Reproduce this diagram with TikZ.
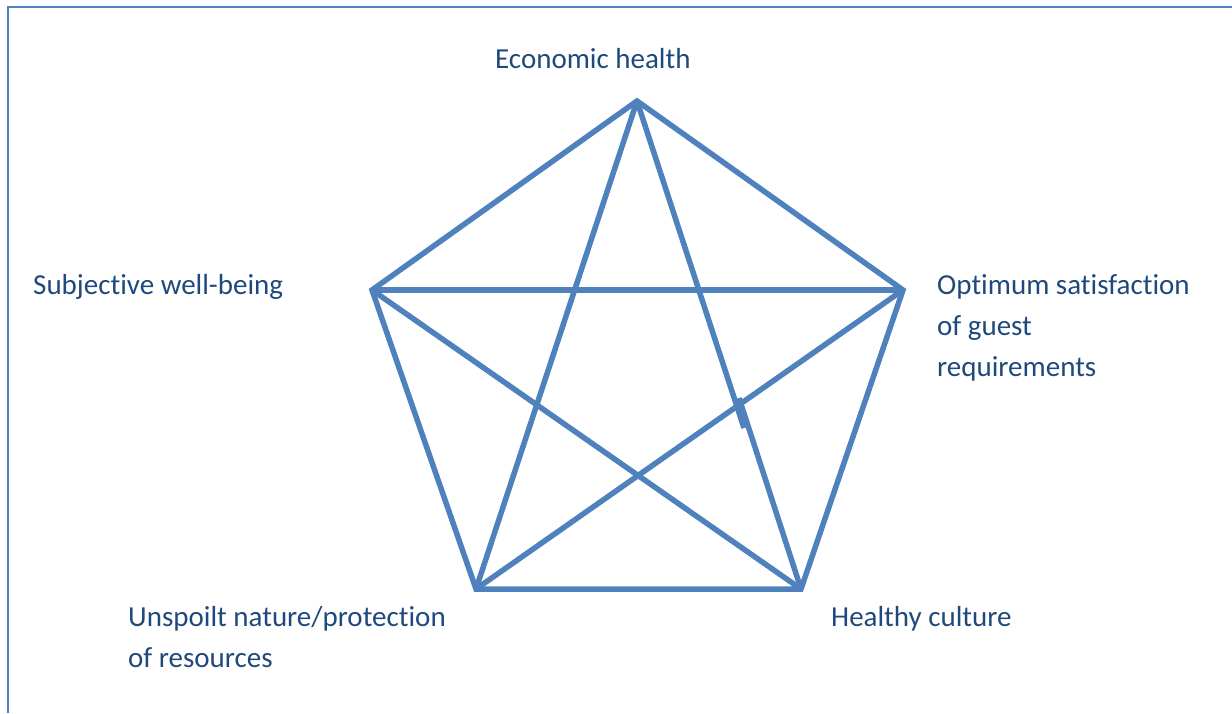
\documentclass[tikz,border=0pt]{standalone}
\usepackage{fontspec}
\setmainfont{Carlito}[Ligatures=NoCommon]
\definecolor{lineblue}{HTML}{4F81BD}
\definecolor{textblue}{HTML}{1F497D}
\begin{document}
\begin{tikzpicture}[x=1pt,y=-1pt,
  edge/.style={draw=lineblue,line width=5.5pt},
  frame/.style={draw=lineblue,line width=2.4pt},
  lbl/.style={text=textblue,font=\fontsize{29}{41}\selectfont,inner sep=0pt,align=left,anchor=base west}]
\useasboundingbox (0,0) rectangle (1232,713);
% outer frame (top and left edges)
\coordinate (FB) at (8,713);
\coordinate (FC) at (8,7);
\coordinate (FR) at (1232,7);
\draw[frame] (FB) -- (FC) -- (FR);
% pentagon corners
\coordinate (E) at (637,101);
\coordinate (R) at (903,290);
\coordinate (H) at (801,589);
\coordinate (U) at (476,589);
\coordinate (L) at (372,290);
% break in the diagonal E--H
\coordinate (K1) at (744,428);
\coordinate (K2) at (739,398);
% outline
\draw[edge,line join=miter] (E) -- (R) -- (H) -- (U) -- (L) -- cycle;
% star diagonals
\draw[edge] (E) -- (U);
\draw[edge] (U) -- (R);
\draw[edge] (R) -- (L);
\draw[edge] (L) -- (H);
\draw[edge] (E) -- (K1);
\draw[edge] (K2) -- (H);
% labels (multi-line nodes are placed by the baseline of their last line)
\node[lbl] (econ) at (495,68) {Economic health};
\node[lbl] (subj) at (33,294) {Subjective well-being};
\node[lbl] (guest) at (937,376) {Optimum satisfaction\\of guest\\requirements};
\node[lbl] (cult) at (831,626) {Healthy culture};
\node[lbl] (nat) at (128,667) {Unspoilt nature/protection\\of resources};
\end{tikzpicture}
\end{document}
